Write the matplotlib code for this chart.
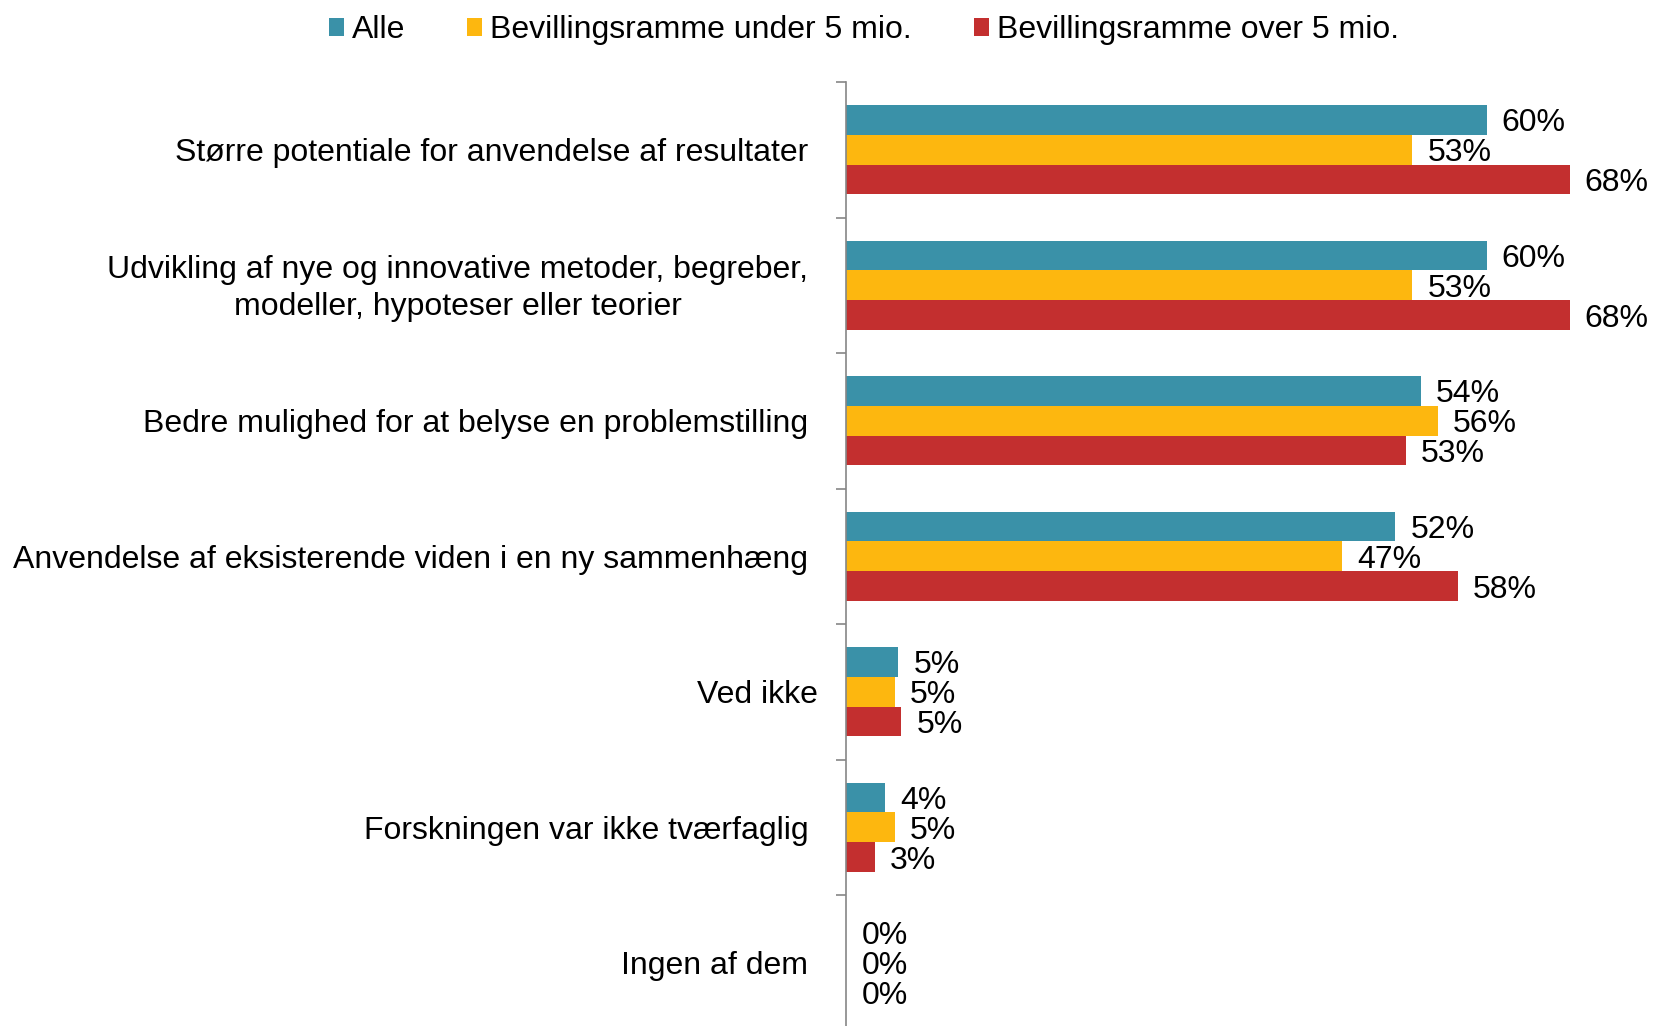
import matplotlib
matplotlib.use('Agg')
import matplotlib.pyplot as plt
from matplotlib.patches import Patch
from matplotlib.transforms import ScaledTranslation
import numpy as np

plt.rcParams['font.family'] = ['Liberation Sans', 'DejaVu Sans']

# data (percent)
categories = [
    "Større potentiale for anvendelse af resultater",
    "Udvikling af nye og innovative metoder, begreber,\nmodeller, hypoteser eller teorier",
    "Bedre mulighed for at belyse en problemstilling",
    "Anvendelse af eksisterende viden i en ny sammenhæng",
    "Ved ikke",
    "Forskningen var ikke tværfaglig",
    "Ingen af dem",
]
alle = [60.2, 60.2, 54.0, 51.6, 4.9, 3.7, 0.0]
under_5 = [53.2, 53.2, 55.6, 46.6, 4.6, 4.6, 0.0]
over_5 = [68.0, 68.0, 52.6, 57.5, 5.2, 2.7, 0.0]
series_names = ["Alle", "Bevillingsramme under 5 mio.", "Bevillingsramme over 5 mio."]
colors = ["#3A91A8", "#FDB70F", "#C32F2F"]

W, H = 1654, 1026
fig = plt.figure(figsize=(W / 100, H / 100), dpi=100)
ax_left, ax_top = 846, 82
cat_h = 135.5
x_max = 70
ax_w = x_max * 10.64
ax = fig.add_axes([ax_left / W, 1 - (ax_top + 7 * cat_h) / H, ax_w / W, 7 * cat_h / H])

fs = 23
y = np.arange(len(categories))
bh = 0.22
for k, (vals, c) in enumerate(zip([alle, under_5, over_5], colors)):
    pos = y + (k - 1) * bh
    ax.barh(pos, vals, height=bh, color=c, edgecolor='none')
    for p, v in zip(pos, vals):
        ax.annotate(f"{round(v):.0f}%", (v, p), xytext=(11, -2.5), textcoords='offset points',
                    va='center', ha='left', fontsize=fs, annotation_clip=False)

ax.set_xlim(0, x_max)
ax.set_ylim(6.5, -0.5)
ax.set_yticks(y)
ax.set_yticklabels(categories, fontsize=fs, multialignment='center', linespacing=1.3)
ax.set_yticks(np.arange(-0.5, 7, 1), minor=True)
ax.tick_params(axis='y', which='major', length=0, pad=27)
ax.tick_params(axis='y', which='minor', length=7, width=1.2, color='#868686', direction='out')
ax.set_xticks([])
for s in ['top', 'right', 'bottom']:
    ax.spines[s].set_visible(False)
ax.spines['left'].set_color('#868686')
ax.spines['left'].set_linewidth(1.2)

# small nudges seen in the original
lbls = ax.get_yticklabels()
lbls[1].set_transform(lbls[1].get_transform() + ScaledTranslation(0, 0.04, fig.dpi_scale_trans))
lbls[4].set_transform(lbls[4].get_transform() + ScaledTranslation(0.09, 0, fig.dpi_scale_trans))

handles = [Patch(facecolor=c, edgecolor='none') for c in colors]
fig.legend(handles, series_names, loc='center', bbox_to_anchor=(864 / W, 1 - 30 / H),
           ncol=3, frameon=False, fontsize=fs, handlelength=0.47, handleheight=0.5,
           handletextpad=0.25, columnspacing=1.95, borderpad=0, borderaxespad=0)

fig.savefig('out.png', dpi=100)
